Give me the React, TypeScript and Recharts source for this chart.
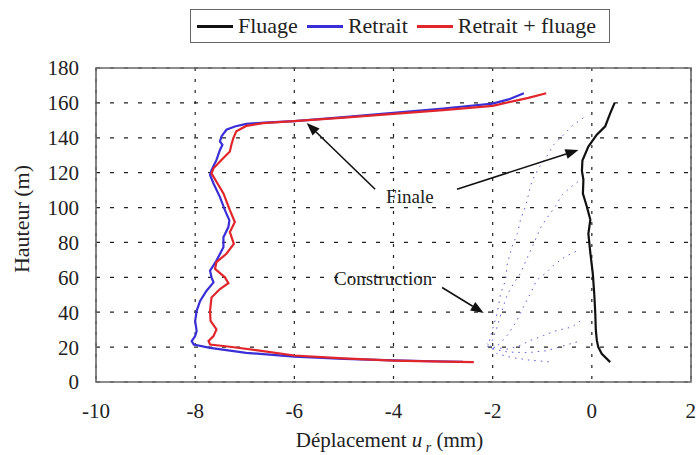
import { LineChart, Line, XAxis, YAxis, CartesianGrid, ReferenceLine, ReferenceDot, ReferenceArea, Label } from 'recharts';

const FONT = '"Liberation Serif", "Times New Roman", serif';

const xTicks = [-10, -8, -6, -4, -2, 0, 2];
const yTicks = [0, 20, 40, 60, 80, 100, 120, 140, 160, 180];

// displacement (mm), height (m) - read bottom to top / top to bottom along each profile
const fluage: [number, number][] = [
  [0.37, 11.4], [0.2, 16.2], [0.13, 20], [0.1, 24], [0.08, 30], [0.07, 39], [0.05, 50],
  [0.02, 62], [-0.03, 74], [-0.07, 85], [-0.03, 93], [-0.1, 100.5], [-0.18, 108],
  [-0.17, 116], [-0.2, 121], [-0.19, 127], [-0.07, 135], [0.1, 141.8], [0.27, 146.6],
  [0.37, 154], [0.46, 160],
];

const retrait: [number, number][] = [
  [-1.37, 165.5], [-1.68, 162], [-2.0, 159.6], [-3.0, 156.8], [-4.0, 154.3], [-5.0, 151.8],
  [-6.0, 149.6], [-6.6, 148.7], [-6.97, 148], [-7.2, 146.5], [-7.37, 144.6], [-7.47, 140.8],
  [-7.5, 137.9], [-7.45, 136], [-7.5, 133], [-7.57, 127.3], [-7.67, 121.5], [-7.7, 118.7],
  [-7.63, 113.8], [-7.5, 106], [-7.4, 98.5], [-7.31, 92.7], [-7.33, 88.8], [-7.43, 83],
  [-7.43, 77.3], [-7.57, 69.6], [-7.7, 63.8], [-7.67, 60], [-7.63, 57.1], [-7.77, 52.3],
  [-7.9, 46.5], [-7.97, 40.8], [-8.0, 35], [-7.97, 29.2], [-8.0, 26.3], [-8.07, 23.5],
  [-8.03, 21.5], [-7.7, 19.6], [-6.97, 16.7], [-6.0, 14.6], [-5.0, 13.3], [-4.0, 12.4],
  [-3.2, 11.9], [-2.6, 11.6],
];

const retraitFluage: [number, number][] = [
  [-0.92, 165.5], [-1.28, 162.9], [-2.0, 158.3], [-3.0, 155.8], [-4.0, 153.7], [-5.0, 151.6],
  [-6.0, 149.6], [-6.63, 148.4], [-6.97, 146.8], [-7.17, 143.7], [-7.23, 139.8], [-7.27, 136],
  [-7.3, 132.1], [-7.47, 127.3], [-7.63, 122.5], [-7.67, 119.6], [-7.57, 114.8], [-7.43, 108.1],
  [-7.3, 98.5], [-7.2, 91.7], [-7.3, 86], [-7.22, 79.2], [-7.37, 73.5], [-7.57, 68.7],
  [-7.6, 64.8], [-7.4, 60], [-7.33, 56.7], [-7.5, 53.3], [-7.67, 48.5], [-7.7, 40.8],
  [-7.69, 35], [-7.57, 30.2], [-7.63, 26.3], [-7.73, 23.5], [-7.7, 21.5], [-7.3, 20.2],
  [-6.63, 17.7], [-6.0, 15.2], [-5.0, 13.5], [-4.0, 12.3], [-3.0, 11.7], [-2.38, 11.4],
];

// profiles during construction stages
const construction: [number, number][][] = [
  [[-2.1, 20], [-2.01, 29.6], [-1.91, 39.2], [-1.84, 50.7], [-1.74, 58.3], [-1.71, 67], [-1.61, 77.5],
   [-1.5, 85.2], [-1.44, 92.9], [-1.34, 100.5], [-1.27, 108.2], [-1.21, 115], [-1.07, 122.7],
   [-0.91, 129.3], [-0.77, 136], [-0.57, 141.8], [-0.37, 147.5], [-0.13, 152.3]],
  [[-2.05, 20], [-2.01, 23.8], [-1.91, 31.5], [-1.81, 41.1], [-1.71, 49.7], [-1.58, 56.4],
   [-1.44, 62.2], [-1.31, 70.8], [-1.17, 79.4], [-1.04, 88.1], [-0.91, 93.8], [-0.74, 100.5],
   [-0.6, 107.3], [-0.37, 113], [-0.13, 117.8]],
  [[-2.0, 19], [-1.85, 22], [-1.68, 27.7], [-1.51, 35.3], [-1.38, 43], [-1.24, 50.7],
   [-1.11, 58.4], [-0.94, 62.2], [-0.77, 67], [-0.54, 71.8], [-0.27, 75.6]],
  [[-1.98, 20], [-1.71, 18.8], [-1.48, 20.5], [-1.24, 23.8], [-0.97, 26.7], [-0.7, 29.6],
   [-0.4, 31.5], [-0.17, 36.3]],
  [[-2.0, 19], [-1.7, 17.2], [-1.3, 16.8], [-0.9, 18], [-0.6, 20.5], [-0.3, 23]],
  [[-2.11, 22], [-1.91, 16.2], [-1.64, 14.2], [-1.31, 12.7], [-0.81, 11.4]],
];

const notes = [
  { text: 'Finale', x: -3.67, y: 106.5 },
  { text: 'Construction', x: -4.21, y: 59.6 },
];

const arrows = [
  { from: { x: -4.37, y: 110.5 }, to: { x: -5.75, y: 148.5 } },
  { from: { x: -2.72, y: 110.5 }, to: { x: -0.27, y: 133 } },
  { from: { x: -3.02, y: 54.2 }, to: { x: -2.18, y: 39.5 } },
];

const legendItems = [
  { name: 'Fluage', color: '#111111' },
  { name: 'Retrait', color: '#3a2ed6' },
  { name: 'Retrait + fluage', color: '#e1262b' },
];

const pts = (a: [number, number][]) => a.map(([x, y]) => ({ x, y }));

const Arrow = (p: any) => {
  const { x1, y1, x2, y2 } = p;
  const a = Math.atan2(y2 - y1, x2 - x1);
  const len = 13;
  const half = 5;
  const bx = x2 - len * Math.cos(a);
  const by = y2 - len * Math.sin(a);
  const sx = half * Math.sin(a);
  const sy = half * Math.cos(a);
  return (
    <g>
      <line x1={x1} y1={y1} x2={bx} y2={by} stroke="#111" strokeWidth={1.6} />
      <polygon points={`${x2},${y2} ${bx + sx},${by - sy} ${bx - sx},${by + sy}`} fill="#111" />
    </g>
  );
};

const XTitle = (props: any) => {
  const vb = props.viewBox || { x: 96, width: 595, y: 382 };
  return (
    <text x={vb.x + vb.width / 2 - 4} y={447} textAnchor="middle" fontFamily={FONT} fontSize={21} fill="#222">
      Déplacement <tspan fontStyle="italic">u</tspan>
      <tspan fontStyle="italic" fontSize={14} dy={5}> r</tspan>
      <tspan dy={-5}> (mm)</tspan>
    </text>
  );
};

const YTitle = () => (
  <text x={21} y={219} transform="rotate(-90, 21, 219)" textAnchor="middle" dominantBaseline="central"
    fontFamily={FONT} fontSize={22} fill="#222">
    Hauteur (m)
  </text>
);

export default function App() {
  const tickStyle = { fill: '#222', fontSize: 21, fontFamily: FONT };
  return (
    <div style={{ position: 'absolute', left: 0, top: 0, width: 696, height: 455, background: '#fff' }}>
      <LineChart width={696} height={455} margin={{ top: 68, right: 5, bottom: 33, left: 36 }}>
        <CartesianGrid vertical={false} stroke="#222" strokeWidth={1.2} strokeDasharray="4 10" />
        <CartesianGrid horizontal={false} stroke="#222" strokeWidth={1.2} strokeDasharray="3 8" />
        <XAxis type="number" dataKey="x" domain={[-10, 2]} ticks={xTicks} allowDataOverflow
          axisLine={false} tickLine={false} tickSize={0} tickMargin={21} height={40} tick={tickStyle}>
          <Label content={XTitle} />
        </XAxis>
        <YAxis type="number" dataKey="y" domain={[0, 180]} ticks={yTicks} allowDataOverflow
          axisLine={false} tickLine={false} tickSize={0} tickMargin={17} width={60} tick={tickStyle}>
          <Label content={YTitle} />
        </YAxis>
        <ReferenceArea x1={-10} x2={2} y1={0} y2={180} fill="none" stroke="#666" strokeWidth={1.6} />
        {construction.map((c, i) => (
          <Line key={`c${i}`} data={pts(c)} dataKey="y" type="linear" stroke="#5b5bd6" strokeWidth={1}
            strokeDasharray="1.5 5" dot={false} isAnimationActive={false} />
        ))}
        <Line data={pts(fluage)} dataKey="y" name="Fluage" type="linear" stroke={legendItems[0].color}
          strokeWidth={2.2} dot={false} isAnimationActive={false} />
        <Line data={pts(retrait)} dataKey="y" name="Retrait" type="linear" stroke={legendItems[1].color}
          strokeWidth={2.2} dot={false} isAnimationActive={false} />
        <Line data={pts(retraitFluage)} dataKey="y" name="Retrait + fluage" type="linear" stroke={legendItems[2].color}
          strokeWidth={2.2} dot={false} isAnimationActive={false} />
        {arrows.map((a, i) => (
          <ReferenceLine key={`a${i}`} segment={[a.from, a.to]} shape={Arrow} />
        ))}
        {notes.map((n) => (
          <ReferenceDot key={n.text} x={n.x} y={n.y} r={0}
            shape={(p: any) => (
              <text x={p.cx} y={p.cy} textAnchor="middle" dominantBaseline="central"
                fontFamily={FONT} fontSize={19} fill="#222">{n.text}</text>
            )} />
        ))}
      </LineChart>
      <div style={{
        position: 'absolute', left: 190, top: 9, width: 420, height: 34, border: '1.6px solid #666',
        display: 'flex', alignItems: 'center', paddingLeft: 6, boxSizing: 'border-box',
        fontFamily: FONT, fontSize: 22, color: '#222', background: '#fff',
      }}>
        {legendItems.map((it) => (
          <div key={it.name} style={{ display: 'flex', alignItems: 'center', marginRight: 9 }}>
            <span style={{ display: 'inline-block', width: 36, height: 3, background: it.color, marginRight: 5 }} />
            <span>{it.name}</span>
          </div>
        ))}
      </div>
    </div>
  );
}
